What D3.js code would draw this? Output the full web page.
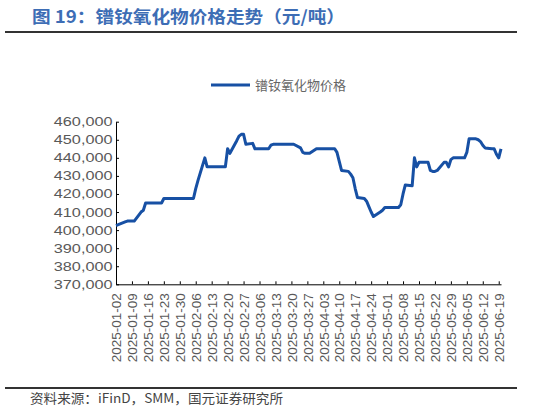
<!DOCTYPE html>
<html>
<head>
<meta charset="utf-8">
<script src="https://cdn.jsdelivr.net/npm/d3@7"></script>
<style>
  body { margin: 0; background: #fff; }
  svg { display: block; }
</style>
</head>
<body>
<div id="chart"></div>
<script>
// price data (元/吨)
var dates = [
  "2025-01-02","2025-01-03","2025-01-06","2025-01-07","2025-01-08","2025-01-09","2025-01-10",
  "2025-01-13","2025-01-14","2025-01-15","2025-01-16","2025-01-17","2025-01-20","2025-01-21",
  "2025-01-22","2025-01-23","2025-01-24","2025-01-27","2025-02-05","2025-02-06","2025-02-07",
  "2025-02-10","2025-02-11","2025-02-12","2025-02-13","2025-02-14","2025-02-17","2025-02-18",
  "2025-02-19","2025-02-20","2025-02-21","2025-02-24","2025-02-25","2025-02-26","2025-02-27",
  "2025-02-28","2025-03-03","2025-03-04","2025-03-05","2025-03-06","2025-03-07","2025-03-10",
  "2025-03-11","2025-03-12","2025-03-13","2025-03-14","2025-03-17","2025-03-18","2025-03-19",
  "2025-03-20","2025-03-21","2025-03-24","2025-03-25","2025-03-26","2025-03-27","2025-03-28",
  "2025-03-31","2025-04-01","2025-04-02","2025-04-03","2025-04-07","2025-04-08","2025-04-09",
  "2025-04-10","2025-04-11","2025-04-14","2025-04-15","2025-04-16","2025-04-17","2025-04-18",
  "2025-04-21","2025-04-22","2025-04-23","2025-04-24","2025-04-25","2025-04-28","2025-04-29",
  "2025-04-30","2025-05-06","2025-05-07","2025-05-08","2025-05-09","2025-05-12","2025-05-13",
  "2025-05-14","2025-05-15","2025-05-16","2025-05-19","2025-05-20","2025-05-21","2025-05-22",
  "2025-05-23","2025-05-26","2025-05-27","2025-05-28","2025-05-29","2025-05-30","2025-06-03",
  "2025-06-04","2025-06-05","2025-06-06","2025-06-09","2025-06-10","2025-06-11","2025-06-12",
  "2025-06-13","2025-06-16","2025-06-17","2025-06-18","2025-06-19","2025-06-20"
];
var prices = [
  402500,403000,404500,405000,405000,405000,405000,
  410000,411000,415000,415000,415000,415000,415000,
  415000,417500,417500,417500,417500,423000,427500,
  440000,435000,435000,435000,435000,435000,435000,
  435000,445000,442500,449500,452000,453000,453000,
  447500,448000,445000,445000,445000,445000,445000,
  447000,447500,447500,447500,447500,447500,447500,
  447500,447500,445500,443000,442500,442500,442500,
  445000,445000,445000,445000,445000,445000,443000,
  438000,433000,432500,431000,429000,423000,418000,
  417500,416000,413000,410000,407500,410000,411000,
  412500,412500,414000,420000,425000,424500,440000,
  435000,437500,437500,437500,433000,432500,432500,
  433000,437500,437500,435000,439000,440000,440000,
  440000,443000,450500,450500,450000,449000,447000,
  445500,445000,445000,442000,440000,445000
];

// x tick labels: every 7 days starting 2025-01-02
var tickDates = [
  "2025-01-02","2025-01-09","2025-01-16","2025-01-23","2025-01-30","2025-02-06","2025-02-13",
  "2025-02-20","2025-02-27","2025-03-06","2025-03-13","2025-03-20","2025-03-27","2025-04-03",
  "2025-04-10","2025-04-17","2025-04-24","2025-05-01","2025-05-08","2025-05-15","2025-05-22",
  "2025-05-29","2025-06-05","2025-06-12","2025-06-19"
];
var yTicks = [370000,380000,390000,400000,410000,420000,430000,440000,450000,460000];

var seriesName = "镨钕氧化物价格";
var titleText = "图 19：镨钕氧化物价格走势（元/吨）";
var sourceText = "资料来源：iFinD，SMM，国元证券研究所";

var W = 533, H = 418;
var parse = d3.timeParse("%Y-%m-%d");
var data = dates.map(function(d, i) { return { date: parse(d), value: prices[i] }; });

var svg = d3.select("#chart").append("svg")
    .attr("width", W)
    .attr("height", H)
    .style("font-family", "'Liberation Sans', Arial, sans-serif");

// title + rules
svg.append("text")
    .attr("x", 32)
    .attr("y", 23)
    .attr("fill", "#3d6db5")
    .style("font-family", "'Noto Sans CJK SC', sans-serif")
    .style("font-size", "17px")
    .style("font-weight", "bold")
    .attr("textLength", 313)
    .attr("lengthAdjust", "spacingAndGlyphs")
    .text(titleText);

svg.append("line")
    .attr("x1", 5).attr("x2", 517)
    .attr("y1", 32).attr("y2", 32)
    .attr("stroke", "#333").attr("stroke-width", 1.8);

svg.append("line")
    .attr("x1", 5).attr("x2", 517)
    .attr("y1", 388).attr("y2", 388)
    .attr("stroke", "#333").attr("stroke-width", 1.8);

svg.append("text")
    .attr("x", 30)
    .attr("y", 403)
    .attr("fill", "#444")
    .style("font-family", "'Noto Sans CJK SC', sans-serif")
    .style("font-size", "13px")
    .attr("textLength", 253)
    .attr("lengthAdjust", "spacingAndGlyphs")
    .text(sourceText);

// legend
var legend = svg.append("g");
legend.append("line")
    .attr("x1", 211).attr("x2", 250)
    .attr("y1", 85).attr("y2", 85)
    .attr("stroke", "#1750a4").attr("stroke-width", 3);
legend.append("text")
    .attr("x", 255)
    .attr("y", 89.5)
    .attr("fill", "#666")
    .style("font-family", "'Noto Sans CJK SC', sans-serif")
    .style("font-size", "13px")
    .text(seriesName);

// scales
var x = d3.scaleTime()
    .domain([parse("2025-01-02"), parse("2025-06-20")])
    .range([116, 501]);
var y = d3.scaleLinear()
    .domain([370000, 460000])
    .range([284.3, 121.7]);

// y axis
var gy = svg.append("g")
    .attr("transform", "translate(116,0)")
    .call(d3.axisLeft(y)
        .tickValues(yTicks)
        .tickSizeInner(-3)
        .tickSizeOuter(0)
        .tickPadding(3.5)
        .tickFormat(d3.format(",")));
gy.select(".domain").attr("stroke", "#000");
gy.selectAll(".tick line").attr("stroke", "#000");
gy.selectAll(".tick text")
    .attr("fill", "#595959")
    .style("font-size", "12.5px")
    .each(function() {
        var len = this.getComputedTextLength();
        d3.select(this)
            .attr("textLength", len * 1.3)
            .attr("lengthAdjust", "spacingAndGlyphs");
    });

// x axis
var gx = svg.append("g")
    .attr("transform", "translate(0,284.3)")
    .call(d3.axisBottom(x)
        .tickValues(tickDates.map(parse))
        .tickSizeInner(-3)
        .tickSizeOuter(0)
        .tickFormat(d3.timeFormat("%Y-%m-%d")));
gx.select(".domain").attr("stroke", "#000");
gx.selectAll(".tick line").attr("stroke", "#000");
gx.selectAll(".tick text")
    .attr("fill", "#595959")
    .style("font-size", "13.5px")
    .attr("text-anchor", "end")
    .attr("transform", "rotate(-90)")
    .attr("x", -9)
    .attr("y", 0)
    .attr("dy", "0.35em");

// the price line
svg.append("path")
    .datum(data)
    .attr("fill", "none")
    .attr("stroke", "#1750a4")
    .attr("stroke-width", 3)
    .attr("stroke-linejoin", "round")
    .attr("d", d3.line()
        .x(function(d) { return x(d.date); })
        .y(function(d) { return y(d.value); })
    );
</script>
</body>
</html>
